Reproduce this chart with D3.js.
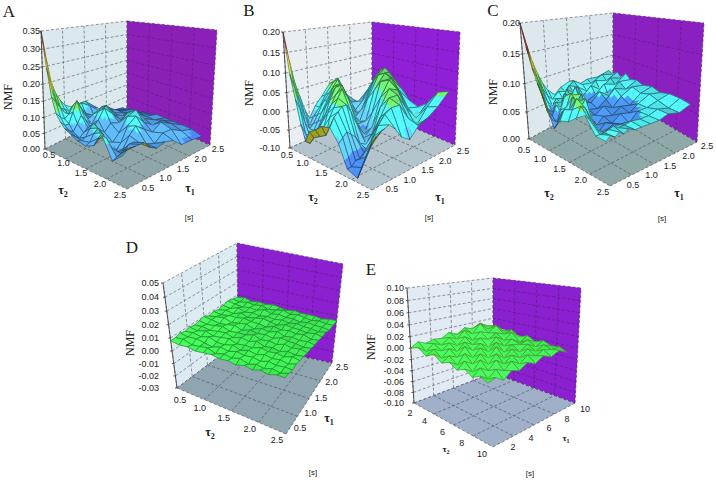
<!DOCTYPE html>
<html>
<head>
<meta charset="utf-8">
<script src="https://cdn.jsdelivr.net/npm/d3@7"></script>
<style>
  html, body { margin: 0; padding: 0; background: #fff; }
  text { font-family: "Liberation Sans", Arial, sans-serif; fill: #1a1a1a; }
  .serif { font-family: "Liberation Serif", "Times New Roman", serif; }
  .soft { filter: blur(0.3px); }
</style>
</head>
<body>
<svg id="chart" width="716" height="480"></svg>
<script>
// tau nodes the surfaces are sampled on
const tauFine = [0.5, 0.6, 0.7, 0.8, 0.9, 1.0, 1.15, 1.3, 1.5, 1.7, 1.9, 2.15, 2.4];
const tauD = [0.5, 0.64, 0.79, 0.93, 1.07, 1.21, 1.36, 1.5, 1.64, 1.79, 1.93, 2.07, 2.21, 2.36, 2.5];
const tauE = [2, 2.75, 3.5, 4.25, 5, 5.75, 6.5, 7.25, 8, 8.75, 9.5];

// tick labels
const ticksTau = ['0.5', '1.0', '1.5', '2.0', '2.5'];
const ticksTauE = ['2', '4', '6', '8', '10'];
const ticksZA = ['0.00', '0.05', '0.10', '0.15', '0.20', '0.25', '0.30', '0.35'];
const ticksZB = ['-0.10', '-0.05', '0.00', '0.05', '0.10', '0.15', '0.20'];
const ticksZC = ['0.00', '0.05', '0.10', '0.15', '0.20'];
const ticksZD = ['-0.03', '-0.02', '-0.01', '0.00', '0.01', '0.02', '0.03', '0.04', '0.05'];
const ticksZE = ['-0.10', '-0.08', '-0.06', '-0.04', '-0.02', '0.00', '0.02', '0.04', '0.06', '0.08', '0.10'];

// NMF values, one row per tau2 node, one column per tau1 node
const nmfA = [
  [.35, .27, .20, .16, .135, .115, .10, .10, .10, .07, .04, .02, .01],
  [.25, .19, .15, .12, .11, .10, .10, .11, .09, .06, .05, .03, .01],
  [.17, .15, .13, .11, .10, .12, .11, .08, .06, .08, .06, .03, .02],
  [.125, .11, .10, .11, .13, .14, .10, .07, .07, .09, .05, .03, .02],
  [.105, .09, .09, .12, .15, .12, .08, .09, .10, .08, .04, .04, .02],
  [.09, .08, .07, .09, .11, .09, .07, .10, .11, .07, .05, .04, .03],
  [.08, .07, .06, .07, .08, .07, .09, .12, .09, .06, .06, .05, .03],
  [.07, .065, .07, .09, .10, .08, .06, .08, .07, .09, .08, .05, .04],
  [.065, .07, .09, .10, .08, .05, .04, .06, .10, .11, .07, .05, .04],
  [.075, .09, .10, .07, .05, .03, .05, .09, .11, .08, .06, .06, .04],
  [.11, .10, .07, .05, .04, .05, .08, .10, .08, .06, .08, .06, .04],
  [.055, .06, .065, .07, .08, .08, .07, .06, .05, .07, .07, .05, .04],
  [.08, .09, .09, .09, .09, .09, .07, .06, .067, .06, .036, .035, .03]
];
const nmfB = [
  [.20, .13, .07, .03, -.01, -.04, -.01, .01, .04, .05, -.01, -.05, -.02],
  [.10, .06, .02, -.02, -.05, -.03, -.01, .02, .05, .02, -.03, -.04, .01],
  [.04, .01, -.03, -.05, -.04, -.02, .01, .03, .06, -.01, -.05, -.02, .04],
  [-.02, -.05, -.06, -.05, -.03, -.01, .02, .05, .03, -.03, -.06, .01, .06],
  [-.06, -.07, -.06, -.04, -.02, .01, .04, .06, .01, -.05, -.03, .04, .07],
  [-.03, -.05, -.04, -.02, .00, .03, .06, .05, -.02, -.06, .00, .06, .06],
  [-.02, -.04, -.02, .01, .03, .05, .07, .02, -.05, -.05, .03, .07, .04],
  [-.005, -.03, .01, .03, .05, .07, .04, -.02, -.07, -.02, .06, .06, .02],
  [.00, .02, .03, .04, .04, .02, -.02, -.06, -.04, .03, .07, .03, -.01],
  [-.03, -.02, -.01, -.02, -.03, -.05, -.06, -.04, .02, .06, .05, -.01, -.02],
  [-.08, -.08, -.07, -.07, -.06, -.06, -.02, .01, .05, .05, .01, -.03, .00],
  [-.09, -.07, -.05, -.03, -.01, .01, .03, .04, .04, .00, -.03, .01, .04],
  [-.025, -.005, .005, .01, .015, .02, .005, -.02, -.035, -.01, .00, .02, .05]
];
const nmfC = [
  [.20, .165, .135, .11, .09, .075, .06, .07, .075, .06, .065, .06, .065],
  [.163, .13, .105, .085, .07, .06, .07, .065, .08, .065, .06, .07, .06],
  [.13, .11, .085, .065, .055, .065, .06, .08, .07, .055, .07, .06, .07],
  [.108, .085, .06, .05, .065, .06, .08, .07, .055, .07, .055, .07, .06],
  [.09, .06, .05, .065, .06, .08, .07, .085, .05, .055, .07, .06, .075],
  [.073, .05, .04, .06, .08, .07, .09, .06, .05, .065, .05, .07, .065],
  [.043, .05, .065, .07, .09, .085, .065, .05, .045, .055, .07, .06, .07],
  [.06, .075, .07, .09, .08, .09, .05, .045, .055, .045, .06, .07, .065],
  [.064, .08, .095, .08, .09, .055, .04, .05, .045, .055, .05, .065, .07],
  [.075, .09, .085, .07, .05, .04, .05, .045, .055, .05, .06, .07, .065],
  [.083, .075, .06, .05, .04, .05, .055, .05, .045, .06, .06, .065, .07],
  [.06, .06, .06, .062, .065, .06, .06, .062, .06, .06, .065, .06, .07],
  [.059, .065, .06, .065, .06, .065, .06, .06, .06, .06, .065, .06, .067]
];
const nmfD = [
  [.008, .008, .009, .008, .009, .008, .009, .010, .008, .009, .008, .009, .010, .009, .008],
  [.007, .009, .008, .009, .008, .009, .008, .009, .009, .008, .009, .008, .009, .008, .009],
  [.008, .007, .009, .008, .010, .008, .009, .008, .010, .009, .008, .010, .008, .009, .007],
  [.007, .008, .008, .010, .008, .009, .010, .009, .008, .009, .010, .008, .009, .008, .008],
  [.008, .009, .007, .008, .009, .010, .008, .010, .009, .010, .008, .009, .008, .009, .007],
  [.009, .007, .009, .008, .010, .008, .009, .008, .010, .009, .009, .008, .010, .007, .008],
  [.008, .009, .008, .010, .008, .010, .009, .010, .008, .009, .010, .009, .008, .008, .007],
  [.009, .008, .010, .008, .009, .009, .011, .009, .010, .008, .009, .008, .009, .009, .006],
  [.008, .010, .009, .010, .009, .011, .009, .010, .009, .010, .008, .009, .008, .007, .007],
  [.010, .008, .010, .009, .011, .009, .010, .009, .011, .009, .010, .008, .008, .008, .006],
  [.009, .010, .009, .011, .010, .010, .009, .011, .009, .010, .009, .009, .007, .007, .006],
  [.011, .009, .011, .010, .011, .009, .011, .010, .010, .009, .009, .008, .008, .006, .006],
  [.010, .011, .010, .011, .010, .011, .010, .010, .009, .010, .008, .008, .007, .007, .005],
  [.012, .010, .011, .010, .012, .010, .011, .009, .010, .008, .009, .007, .007, .006, .006],
  [.012, .012, .011, .012, .011, .011, .010, .010, .009, .009, .008, .008, .006, .006, .006]
];
const nmfE = [
  [.000, .008, .002, .006, .004, .012, .004, .014, .008, .016, .006],
  [.006, -.004, .006, .000, .010, .004, .016, .006, .022, .008, .012],
  [-.004, .004, -.002, .008, .000, .012, .002, .014, .008, .018, .004],
  [.004, -.006, .006, -.002, .010, .002, .010, .004, .012, .006, .010],
  [-.006, .002, -.004, .010, .000, .008, -.002, .012, .002, .012, .000],
  [.000, -.008, .006, -.004, .008, -.002, .010, .000, .008, -.002, .006],
  [-.008, .002, -.006, .006, -.004, .010, -.002, .006, .002, .006, -.002],
  [-.002, -.010, .004, -.006, .006, -.004, .006, -.002, .006, -.002, .004],
  [-.010, .000, -.008, .004, -.006, .004, -.004, .006, -.002, .004, -.002],
  [-.004, -.012, -.002, -.008, .002, -.006, .004, -.002, .004, .000, .000],
  [-.010, -.006, -.014, -.004, -.008, .000, -.006, .002, -.004, .002, -.006]
];

// colour bands of each surface
const bandsA = [.04, .09, .125, .18, .26, .31];
const bandsB = [-.055, -.02, .035, .10, .15];
const bandsC = [.058, .085, .115, .15];
const coloursA = ['#3f78d8', '#4f9fe6', '#45e0e0', '#5fe05f', '#d8e040', '#e09a30', '#c24a3c'];
const coloursB = ['#3f78d8', '#52b4e8', '#45e0e0', '#5fe05f', '#d8e040', '#c24a3c'];
const coloursC = ['#3f84d8', '#45e0e0', '#5fe05f', '#d8e040', '#c84a30'];
const coloursFlat = ['#3cfa50'];

const panels = [
  { name: 'A', tau1: tauFine, tau2: tauFine, values: nmfA, tickTau: [0.5, 2.5], zLabels: ticksZA, tauLabels: ticksTau,
    bands: bandsA, colours: coloursA, wire: '#1c2a3a', left: '#dbe8ec', right: '#8a20b8', floor: '#8fa6a8',
    L: [45, 149], B: [127, 108], R: [210, 145], F: [127, 189], LT: [41, 31], BT: [127, 21], RT: [217, 30], FT: [127, 39],
    zEnd: 40, t2From: [49, 155], t2To: [120, 195], t1From: [148, 188], t1To: [218, 149],
    t2Name: [63, 190], t1Name: [190, 188], sec: [189, 217], nmf: [8, 97], letter: [9, 11] },
  { name: 'B', tau1: tauFine, tau2: tauFine, values: nmfB, tickTau: [0.5, 2.5], zLabels: ticksZB, tauLabels: ticksTau,
    bands: bandsB, colours: coloursB, wire: '#1c2a3a', left: '#e8eef2', right: '#8f20d8', floor: '#b4c4cc',
    L: [290, 148], B: [372, 110], R: [455, 145], F: [372, 190], LT: [283, 32], BT: [372, 22], RT: [460, 32], FT: [372, 42],
    zEnd: 280, t2From: [287, 155], t2To: [363, 195], t1From: [392, 189], t1To: [463, 151],
    t2Name: [313, 197], t1Name: [440, 197], sec: [429, 217], nmf: [249, 93], letter: [249, 10] },
  { name: 'C', tau1: tauFine, tau2: tauFine, values: nmfC, tickTau: [0.5, 2.5], zLabels: ticksZC, tauLabels: ticksTau,
    bands: bandsC, colours: coloursC, wire: '#1c2a3a', left: '#dce8ec', right: '#8a20c0', floor: '#8fa8a8',
    L: [529, 139], B: [613, 93], R: [697, 142], F: [610, 186], LT: [520, 23], BT: [613, 13], RT: [704, 23], FT: [611, 31],
    zEnd: 520, t2From: [524, 150], t2To: [603, 192], t1From: [633, 185], t1To: [707, 146],
    t2Name: [549, 193], t1Name: [679, 193], sec: [662, 218], nmf: [493, 92], letter: [493, 10] },
  { name: 'D', tau1: tauD, tau2: tauD, values: nmfD, tickTau: [0.5, 2.5], zLabels: ticksZD, tauLabels: ticksTau,
    bands: [], colours: coloursFlat, wire: '#1a5a28', left: '#dceaf2', right: '#8a20d0', floor: '#8fa5b0',
    L: [177, 388], B: [238, 342], R: [332, 363], F: [286, 434], LT: [163, 283], BT: [237, 243], RT: [343, 264], FT: [284, 322],
    zEnd: 159, t2From: [180, 400], t2To: [277, 440], t1From: [300, 428], t1To: [342, 367],
    t2Name: [210, 432], t1Name: [329, 418], sec: [313, 472], nmf: [130, 343], letter: [132, 247] },
  { name: 'E', tau1: tauE, tau2: tauE, values: nmfE, tickTau: [2, 10], zLabels: ticksZE, tauLabels: ticksTauE,
    bands: [], colours: coloursFlat, wire: '#4a6a28', left: '#e2ebf3', right: '#8a20d0', floor: '#9fb0c8',
    L: [414, 403], B: [493, 373], R: [575, 403], F: [493, 447], LT: [407, 288], BT: [493, 278], RT: [581, 288], FT: [493, 302],
    zEnd: 404, t2From: [410, 413], t2To: [482, 454], t1From: [513, 447], t1To: [585, 409],
    t2Name: [446, 449], t1Name: [566, 438], sec: [530, 473], nmf: [371, 347], letter: [371, 269] }
];

const svg = d3.select('#chart');
const lerp = (a, b, t) => [a[0] + (b[0] - a[0]) * t, a[1] + (b[1] - a[1]) * t];
const pathOf = pts => 'M' + pts.map(p => p[0].toFixed(1) + ',' + p[1].toFixed(1)).join('L') + 'Z';
const UNDERSIDE = '#c2c020';
const SUB = 3; // sub-cells per grid cell, gives the contour bands

const drawPanel = (cfg) => {
  const g = svg.append('g').attr('class', 'panel-' + cfg.name);
  const box = g.append('g').attr('class', 'soft');
  const zVals = cfg.zLabels.map(Number);

  // Scales from data to the unit box
  const u = d3.scaleLinear().domain(cfg.tickTau).range([0, 1]);
  const v = d3.scaleLinear().domain(cfg.tickTau).range([0, 1]);
  const zLin = d3.scaleLinear().domain(d3.extent(zVals)).range([0, 1]);
  // the walls are foreshortened a bit towards the floor
  const k = 1.1;
  const z = val => { const t = zLin(val); return t / (t + k * (1 - t)); };
  const colour = d3.scaleThreshold().domain(cfg.bands).range(cfg.colours);

  const bilinear = (a, b, c, d, s, t) => lerp(lerp(a, b, s), lerp(d, c, s), t);
  // s runs along L->B, t runs along L->F, h is the height in the box
  const project = (s, t, h) => {
    const base = bilinear(cfg.L, cfg.B, cfg.R, cfg.F, s, t);
    const top = bilinear(cfg.LT, cfg.BT, cfg.RT, cfg.FT, s, t);
    return lerp(base, top, h);
  };

  // Walls and floor
  box.append('path').attr('d', pathOf([cfg.L, cfg.B, cfg.BT, cfg.LT])).attr('fill', cfg.left);
  box.append('path').attr('d', pathOf([cfg.B, cfg.R, cfg.RT, cfg.BT])).attr('fill', cfg.right);
  box.append('path').attr('d', pathOf([cfg.L, cfg.B, cfg.R, cfg.F])).attr('fill', cfg.floor);

  // Grid lines
  const tauVals = cfg.tauLabels.map(Number);
  const tauTicks = d3.range(tauVals[0], tauVals[4] + 1e-6, (tauVals[4] - tauVals[0]) / 4);
  const gridLines = [];
  tauTicks.forEach(d => {
    const s = u(d);
    gridLines.push({ a: project(s, 0, 0), b: project(s, 0, 1), c: '#667' });
    gridLines.push({ a: project(1, s, 0), b: project(1, s, 1), c: '#5a1f80' });
    gridLines.push({ a: project(s, 0, 0), b: project(s, 1, 0), c: '#556' });
    gridLines.push({ a: project(0, s, 0), b: project(1, s, 0), c: '#556' });
  });
  zVals.forEach(d => {
    gridLines.push({ a: project(0, 0, z(d)), b: project(1, 0, z(d)), c: '#667' });
    gridLines.push({ a: project(1, 0, z(d)), b: project(1, 1, z(d)), c: '#5a1f80' });
  });
  box.append('g').selectAll('line').data(gridLines).join('line')
    .attr('x1', d => d.a[0]).attr('y1', d => d.a[1])
    .attr('x2', d => d.b[0]).attr('y2', d => d.b[1])
    .attr('stroke', d => d.c).attr('stroke-width', 0.7)
    .attr('stroke-dasharray', '3,2');

  // Axis lines and z ticks
  box.append('line')
    .attr('x1', cfg.L[0]).attr('y1', cfg.L[1]).attr('x2', cfg.LT[0]).attr('y2', cfg.LT[1])
    .attr('stroke', '#333').attr('stroke-width', 0.8);
  box.append('g').selectAll('line').data(zVals).join('line')
    .attr('x1', d => project(0, 0, z(d))[0] - 2).attr('y1', d => project(0, 0, z(d))[1])
    .attr('x2', d => project(0, 0, z(d))[0]).attr('y2', d => project(0, 0, z(d))[1])
    .attr('stroke', '#333').attr('stroke-width', 0.8);
  g.append('g').selectAll('text').data(cfg.zLabels).join('text')
    .attr('x', cfg.zEnd)
    .attr('y', d => project(0, 0, z(+d))[1])
    .attr('dy', '0.35em').attr('text-anchor', 'end')
    .attr('font-size', 9).text(d => d);

  // Tau tick labels, spacing widens towards the viewer along tau2
  const t2Pos = d3.scalePow().exponent(1.15).domain([0, 4]).range([0, 1]);
  const t1Pos = d3.scaleLinear().domain([0, 4]).range([0, 1]);
  const tauText = (from, to, pos) => g.append('g').selectAll('text').data(cfg.tauLabels).join('text')
    .attr('x', (d, i) => lerp(from, to, pos(i))[0])
    .attr('y', (d, i) => lerp(from, to, pos(i))[1])
    .attr('dy', '0.35em').attr('text-anchor', 'middle')
    .attr('font-size', 9).text(d => d);
  tauText(cfg.t2From, cfg.t2To, t2Pos);
  tauText(cfg.t1From, cfg.t1To, t1Pos);

  // Surface cells, far ones first
  const cells = [];
  cfg.tau2.slice(0, -1).forEach((_, j) => {
    cfg.tau1.slice(0, -1).forEach((_, i) => { cells.push({ i, j }); });
  });
  const depth = c => u(cfg.tau1[c.i]) - v(cfg.tau2[c.j]);
  cells.sort((a, b) => depth(b) - depth(a));

  const surface = box.append('g');
  cells.forEach(({ i, j }) => {
    const s0 = u(cfg.tau1[i]), s1 = u(cfg.tau1[i + 1]);
    const t0 = v(cfg.tau2[j]), t1 = v(cfg.tau2[j + 1]);
    const vals = cfg.values;
    const at = (a, b) => {
      const val = (vals[j][i] * (1 - a) + vals[j][i + 1] * a) * (1 - b)
        + (vals[j + 1][i] * (1 - a) + vals[j + 1][i + 1] * a) * b;
      return { val, p: project(s0 + (s1 - s0) * a, t0 + (t1 - t0) * b, z(val)) };
    };
    // facets turned to the viewer come out lighter, the others darker
    const outline = [project(s0, t0, z(vals[j][i])), project(s1, t0, z(vals[j][i + 1])),
      project(s1, t1, z(vals[j + 1][i + 1])), project(s0, t1, z(vals[j + 1][i]))];
    const flat = [project(s0, t0, 0.5), project(s1, t0, 0.5), project(s1, t1, 0.5), project(s0, t1, 0.5)];
    const lit = Math.max(-0.5, Math.min(0.5, (d3.polygonArea(outline) / d3.polygonArea(flat) - 1) * 0.6));

    const subs = [];
    d3.range(SUB - 1, -1, -1).forEach(a => {
      d3.range(0, SUB).forEach(b => {
        const q = [at(a / SUB, b / SUB), at((a + 1) / SUB, b / SUB),
          at((a + 1) / SUB, (b + 1) / SUB), at(a / SUB, (b + 1) / SUB)];
        const pts = q.map(o => o.p);
        const area = d3.polygonArea(pts);
        const base = d3.color(area < 0 ? colour(d3.mean(q, o => o.val)) : UNDERSIDE);
        subs.push({ pts, fill: base.brighter(lit).formatHex() });
      });
    });
    const cell = surface.append('g');
    cell.selectAll('path').data(subs).join('path')
      .attr('d', d => pathOf(d.pts))
      .attr('fill', d => d.fill)
      .attr('stroke', d => d.fill).attr('stroke-width', 0.4);
    cell.append('path').attr('d', pathOf(outline))
      .attr('fill', 'none').attr('stroke', cfg.wire).attr('stroke-width', 0.5);
  });

  // Axis names
  const tauName = (pos, n) => {
    const t = g.append('text').attr('x', pos[0]).attr('y', pos[1]).attr('dy', '0.35em')
      .attr('text-anchor', 'middle').attr('font-size', cfg.name === 'E' ? 9 : 12)
      .attr('font-weight', 'bold').attr('class', 'serif').text('τ');
    t.append('tspan').attr('dy', '0.3em').attr('font-size', cfg.name === 'E' ? 6 : 8).text(n);
  };
  tauName(cfg.t2Name, '2');
  tauName(cfg.t1Name, '1');

  g.append('text').attr('x', cfg.sec[0]).attr('y', cfg.sec[1]).attr('dy', '0.35em')
    .attr('text-anchor', 'middle').attr('font-size', 8).text('[s]');
  g.append('text').attr('transform', `translate(${cfg.nmf[0]},${cfg.nmf[1]}) rotate(-90)`)
    .attr('dy', '0.35em').attr('text-anchor', 'middle').attr('class', 'serif')
    .attr('font-size', 12).text('NMF');
  g.append('text').attr('x', cfg.letter[0]).attr('y', cfg.letter[1]).attr('dy', '0.35em')
    .attr('text-anchor', 'middle').attr('class', 'serif').attr('font-size', 17).text(cfg.name);
};

panels.forEach(drawPanel);
</script>
</body>
</html>
